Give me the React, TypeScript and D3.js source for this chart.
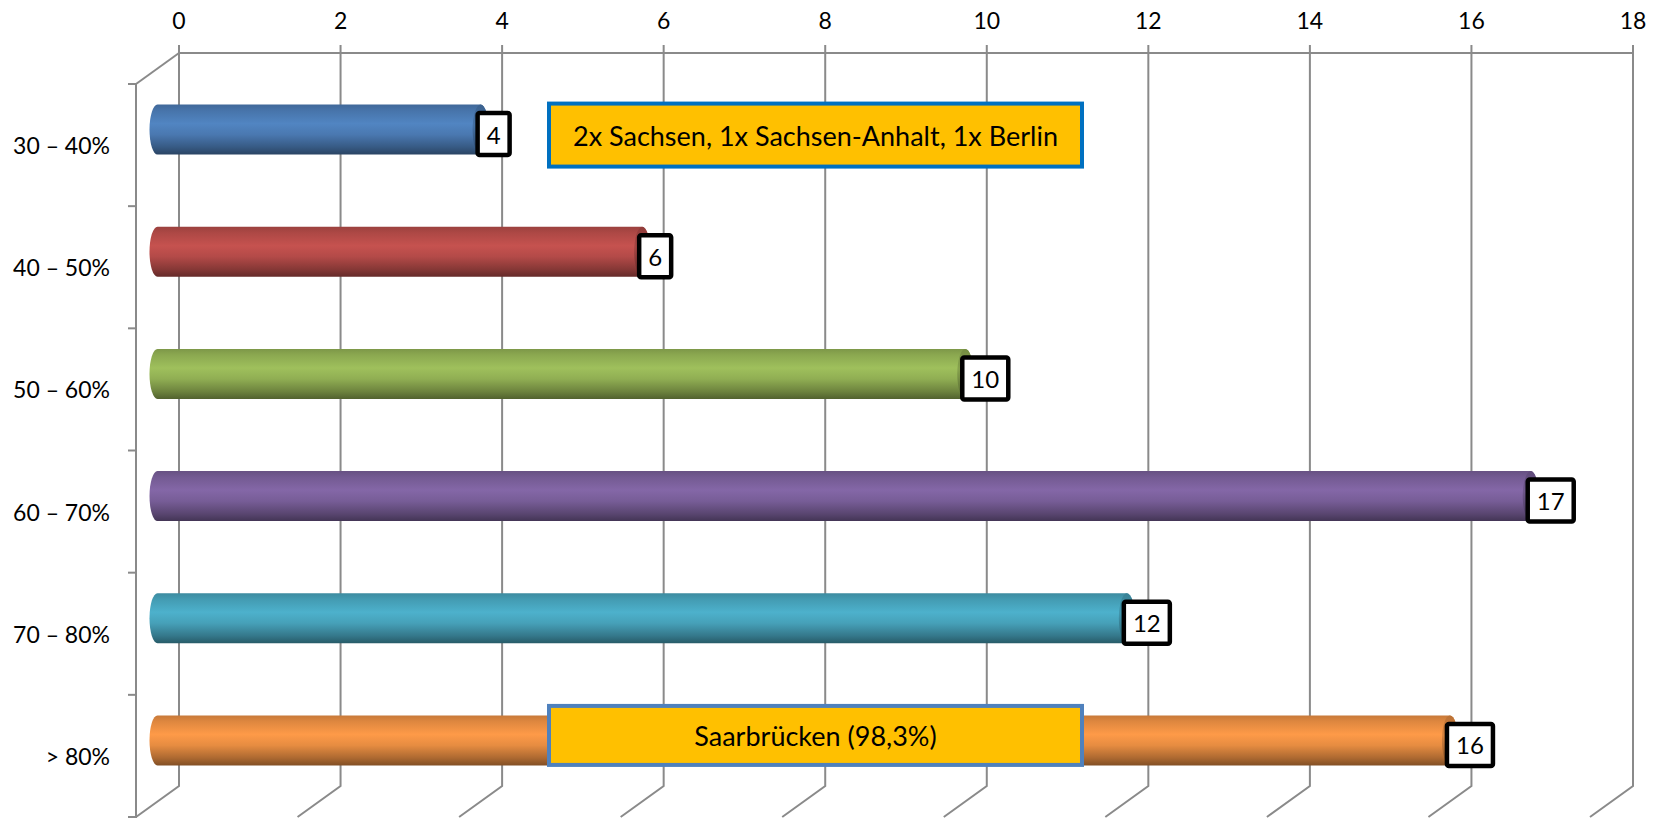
import React from "react";
import * as d3 from "d3";

const categories = ["30 – 40%", "40 – 50%", "50 – 60%", "60 – 70%", "70 – 80%", "> 80%"];
const values = [4, 6, 10, 17, 12, 16];
const barColors = ["#4F81BD", "#C0504D", "#9BBB59", "#8064A2", "#4BACC6", "#F79646"];
const xTicks = [0, 2, 4, 6, 8, 10, 12, 14, 16, 18];
const noteTexts = ["2x Sachsen, 1x Sachsen-Anhalt, 1x Berlin", "Saarbrücken (98,3%)"];
const noteRows = [0, 5];
const noteBorders = ["#0070C0", "#4F81BD"];

const W = 1663;
const H = 818;
const FONT = "Lato, 'Open Sans', sans-serif";

export default function App() {
  const x = d3.scaleLinear().domain([0, 18]).range([179, 1633]);
  const y = d3.scaleBand<string>().domain(categories).range([53, 786]).paddingInner(0);
  const DX = -43;
  const DY = 31;
  const bw = y.bandwidth();
  const barH = 50;
  const rx = 8;
  const grid = "#8a8a8a";

  const noteX0 = 549;
  const noteX1 = 1082;
  const noteLayout = [
    { dy: 5.5, h: 63 },
    { dy: -5, h: 59 },
  ];

  return (
    <svg width={W} height={H} style={{ position: "absolute", left: 0, top: 0, background: "#fff" }}>
      <defs>
        {barColors.map((c, i) => {
          const base = d3.color(c)!;
          return (
            <React.Fragment key={i}>
              <linearGradient id={`g${i}`} x1="0" y1="0" x2="0" y2="1">
                <stop offset="0" stopColor={base.darker(0.6).formatHex()} />
                <stop offset="0.12" stopColor={base.darker(0.3).formatHex()} />
                <stop offset="0.38" stopColor={base.brighter(0.08).formatHex()} />
                <stop offset="0.6" stopColor={base.darker(0.2).formatHex()} />
                <stop offset="0.85" stopColor={base.darker(1.0).formatHex()} />
                <stop offset="1" stopColor={base.darker(1.8).formatHex()} />
              </linearGradient>
              <linearGradient id={`c${i}`} x1="0" y1="0" x2="0" y2="1">
                <stop offset="0" stopColor={base.darker(0.8).formatHex()} />
                <stop offset="0.4" stopColor={base.darker(0.4).formatHex()} />
                <stop offset="1" stopColor={base.darker(1.8).formatHex()} />
              </linearGradient>
            </React.Fragment>
          );
        })}
      </defs>

      {xTicks.map((t) => (
        <text key={`tl${t}`} x={x(t)} y={20} textAnchor="middle" dominantBaseline="central"
          fontFamily={FONT} fontSize={23} fill="#000">{t}</text>
      ))}

      {xTicks.map((t) => (
        <path key={`gl${t}`}
          d={`M${x(t)},45 L${x(t)},${y.range()[1]} L${x(t) + DX},${y.range()[1] + DY}`}
          fill="none" stroke={grid} strokeWidth={2} />
      ))}
      <line x1={x(0)} x2={x(18)} y1={53} y2={53} stroke={grid} strokeWidth={2} />
      <line x1={x(0)} y1={53} x2={x(0) + DX} y2={53 + DY} stroke={grid} strokeWidth={2} />
      <line x1={x(0) + DX} x2={x(0) + DX} y1={53 + DY} y2={H} stroke={grid} strokeWidth={2} />
      {[...categories.map((c) => (y(c) as number)), y.range()[1]].map((yy, i) => (
        <line key={`lt${i}`} x1={x(0) + DX - 8} x2={x(0) + DX} y1={yy + DY} y2={yy + DY}
          stroke={grid} strokeWidth={2} />
      ))}

      {categories.map((c) => (
        <text key={`cl${c}`} x={110} y={(y(c) as number) + bw / 2 + DY} textAnchor="end"
          dominantBaseline="central" fontFamily={FONT} fontSize={23} fill="#000">{c}</text>
      ))}

      {categories.map((c, i) => {
        const cy = (y(c) as number) + bw / 2 + DY / 2;
        const xs = x(0) + DX / 2;
        const xe = x(values[i]) + DX / 2;
        const top = cy - barH / 2;
        const bot = cy + barH / 2;
        const ry = barH / 2;
        const d = `M${xs},${top} L${xe},${top} A${rx},${ry} 0 0 1 ${xe},${bot} L${xs},${bot} A${rx},${ry} 0 0 1 ${xs},${top} Z`;
        return (
          <g key={`b${i}`}>
            <path d={d} fill={`url(#g${i})`} />
            <ellipse cx={xe} cy={cy} rx={rx} ry={ry} fill={`url(#c${i})`} />
          </g>
        );
      })}

      {noteTexts.map((t, i) => {
        const cat = categories[noteRows[i]];
        const cy = (y(cat) as number) + bw / 2 + DY / 2 + noteLayout[i].dy;
        const h = noteLayout[i].h;
        return (
          <g key={`n${i}`}>
            <rect x={noteX0} y={cy - h / 2} width={noteX1 - noteX0} height={h}
              fill="#FFC000" stroke={noteBorders[i]} strokeWidth={4} />
            <text x={(noteX0 + noteX1) / 2} y={cy} textAnchor="middle" dominantBaseline="central"
              fontFamily={FONT} fontSize={27} fill="#000">{t}</text>
          </g>
        );
      })}

      {categories.map((c, i) => {
        const cy = (y(c) as number) + bw / 2 + DY / 2 + 4.5;
        const xe = x(values[i]) + DX / 2;
        const label = String(values[i]);
        const w = label.length === 1 ? 32 : 46;
        return (
          <g key={`v${i}`}>
            <rect x={xe - 3} y={cy - 21} width={w} height={42} fill="#fff" stroke="#000"
              strokeWidth={4.5} rx={2} />
            <text x={xe - 3 + w / 2} y={cy} textAnchor="middle" dominantBaseline="central"
              fontFamily={FONT} fontSize={24} fill="#000">{label}</text>
          </g>
        );
      })}
    </svg>
  );
}
